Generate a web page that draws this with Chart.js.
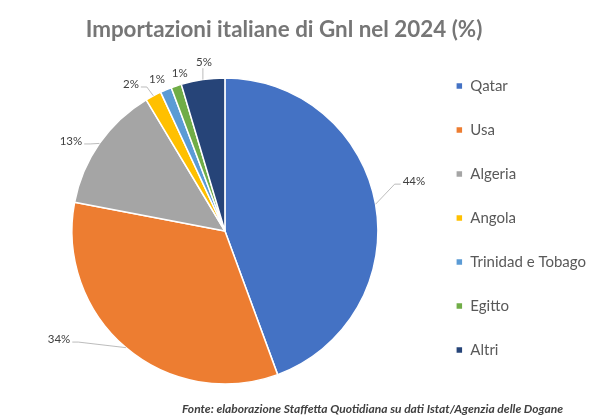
<!DOCTYPE html>
<html><head><meta charset="utf-8">
<script src="https://cdn.jsdelivr.net/npm/chart.js@4.4.1/dist/chart.umd.min.js"></script>
<style>html,body{margin:0;padding:0;background:#fff;}#wrap{width:596px;height:418px;position:relative;}</style>
</head><body><div id="wrap"><canvas id="c"></canvas></div>
<script>
const categories = ['Qatar', 'Usa', 'Algeria', 'Angola', 'Trinidad e Tobago', 'Egitto', 'Altri'];
const shares = [44.4, 33.6, 13.4, 1.7, 1.2, 1.1, 4.6];
const shareLabels = ['44%', '34%', '13%', '2%', '1%', '1%', '5%'];
const sliceColors = ['#4472C4', '#ED7D31', '#A5A5A5', '#FFC000', '#5B9BD5', '#70AD47', '#264478'];
const chartTitle = 'Importazioni italiane di Gnl nel 2024 (%)';
const sourceNote = 'Fonte: elaborazione Staffetta Quotidiana su dati Istat/Agenzia delle Dogane';

// label placement style: angular shift (deg) from slice middle, gap beyond the rim (px)
const labelShiftDeg = [-4.7, 16.6, -4.6, -4.7, -1.4, 2.6, 1.2];
const labelGap = [42.5, 45, 25.4, 21.5, 13.5, 11.3, 17.3];

const pieLabels = {
  id: 'pieLabels',
  afterDatasetsDraw(chart, args, opts) {
    const ctx = chart.ctx;
    const meta = chart.getDatasetMeta(0);
    ctx.save();
    ctx.font = opts.font;
    ctx.textBaseline = 'middle';
    ctx.textAlign = 'center';
    meta.data.forEach((arc, i) => {
      const p = arc.getProps(['x', 'y', 'startAngle', 'endAngle', 'outerRadius'], true);
      const mid = (p.startAngle + p.endAngle) / 2;
      const la = mid + opts.shift[i] * Math.PI / 180;
      const ld = p.outerRadius + opts.gap[i];
      const lx = p.x + Math.cos(la) * ld, ly = p.y + Math.sin(la) * ld;
      const text = opts.texts[i];
      const w = ctx.measureText(text).width, h = opts.size;
      const box = {l: lx - w / 2 - 1, r: lx + w / 2 + 1, t: ly - h / 2, b: ly + h / 2};
      const px = p.x + Math.cos(mid) * p.outerRadius, py = p.y + Math.sin(mid) * p.outerRadius;
      const nx = Math.max(box.l, Math.min(px, box.r)), ny = Math.max(box.t, Math.min(py, box.b));
      const dist = Math.hypot(px - nx, py - ny);
      ctx.strokeStyle = '#a6a6a6';
      ctx.lineWidth = 0.75;
      if (dist > 9) {
        ctx.beginPath();
        if (px >= box.l && px <= box.r) {
          ctx.moveTo(px, py);
          ctx.lineTo(px, py > box.b ? box.b + 0.5 : box.t - 0.5);
        } else {
          const yy = ly + 3;
          const right = px > box.r;
          const endX = right ? box.r + 1 : box.l - 1;
          const elbowX = right ? box.r + 7 : box.l - 7;
          ctx.moveTo(px, py);
          ctx.lineTo(elbowX, yy);
          ctx.lineTo(endX, yy);
        }
        ctx.stroke();
      }
      ctx.fillStyle = opts.color;
      ctx.fillText(text, lx, ly);
    });
    ctx.restore();
  }
};

const textBlocks = {
  id: 'textBlocks',
  afterDraw(chart) {
    const ctx = chart.ctx;
    ctx.save();
    ctx.textBaseline = 'middle';
    ctx.fillStyle = '#767676';
    ctx.font = 'bold 22.4px Lato';
    ctx.textAlign = 'center';
    ctx.fillText(chartTitle, 284, 30);
    ctx.fillStyle = '#404040';
    ctx.font = 'italic bold 12px Lato';
    ctx.textAlign = 'right';
    ctx.fillText(sourceNote, 563, 409);
    ctx.restore();
  }
};

new Chart(document.getElementById('c'), {
  type: 'pie',
  data: {
    labels: categories,
    datasets: [{
      data: shares,
      backgroundColor: sliceColors,
      borderColor: '#ffffff',
      borderWidth: 1.5
    }]
  },
  options: {
    responsive: true,
    maintainAspectRatio: false,
    animation: false,
    radius: 153,
    events: [],
    layout: {padding: {top: 49.5, bottom: 5.5, left: 23, right: 0}},
    plugins: {
      title: {display: false},
      tooltip: {enabled: false},
      legend: {
        position: 'right',
        align: 'start',
        labels: {
          padding: 29,
          boxWidth: 7,
          boxHeight: 7,
          color: '#595959',
          font: {family: 'Lato', size: 15}
        }
      },
      pieLabels: {
        font: '11.5px Lato',
        size: 11.5,
        color: '#404040',
        texts: shareLabels,
        shift: labelShiftDeg,
        gap: labelGap
      }
    }
  },
  plugins: [pieLabels, textBlocks]
});
</script>
</body></html>
